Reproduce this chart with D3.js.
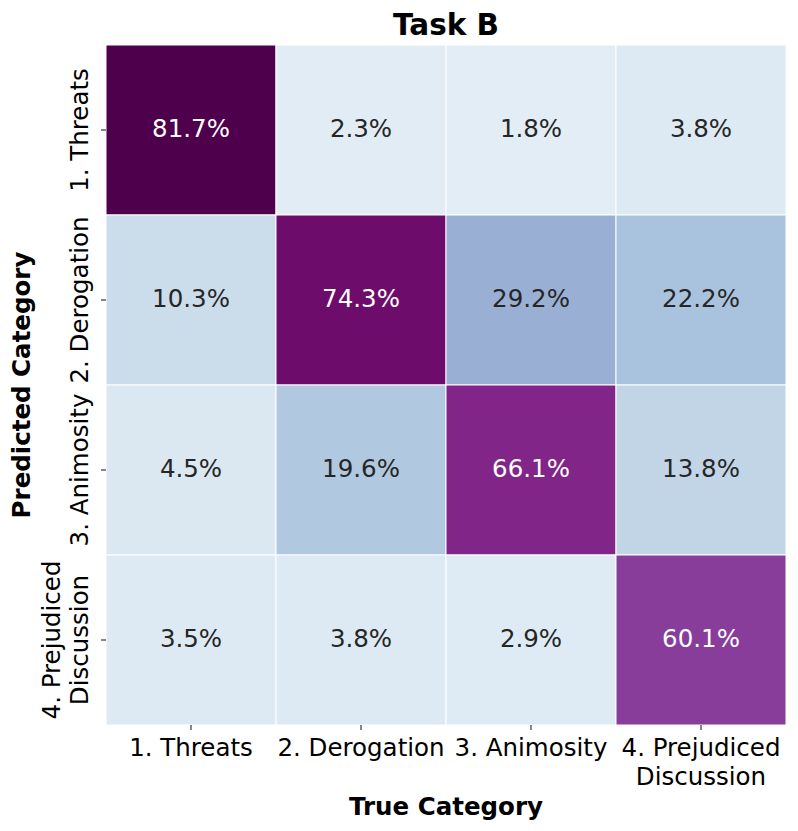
<!DOCTYPE html>
<html>
<head>
<meta charset="utf-8">
<script src="https://cdn.jsdelivr.net/npm/d3@7"></script>
<style>
  body { margin: 0; background: #fff; }
  text { font-family: "DejaVu Sans", sans-serif; }
</style>
</head>
<body>
<div id="chart"></div>
<script>
// confusion matrix, Task B (column-normalised %)
const trueCats = ["1. Threats", "2. Derogation", "3. Animosity", "4. Prejudiced\nDiscussion"];
const predCats = ["1. Threats", "2. Derogation", "3. Animosity", "4. Prejudiced\nDiscussion"];
// rows = predicted, columns = true
const values = [
  [81.7, 2.3, 1.8, 3.8],
  [10.3, 74.3, 29.2, 22.2],
  [4.5, 19.6, 66.1, 13.8],
  [3.5, 3.8, 2.9, 60.1]
];

const W = 798, H = 831;
const margin = { top: 45, right: 12, bottom: 106, left: 106 };
const width = 680, height = 680;

const svg = d3.select("#chart")
  .append("svg")
  .attr("width", W)
  .attr("height", H);

const g = svg.append("g")
  .attr("transform", `translate(${margin.left},${margin.top})`);

const x = d3.scaleBand().domain(trueCats).range([0, width]);
const y = d3.scaleBand().domain(predCats).range([0, height]);

const color = d3.scaleSequential(d3.interpolateBuPu).domain([-8, 82]);

const cells = [];
values.forEach((row, i) => {
  row.forEach((v, j) => cells.push({ pred: predCats[i], tru: trueCats[j], v }));
});

g.selectAll("rect.cell")
  .data(cells)
  .enter()
  .append("rect")
  .attr("class", "cell")
  .attr("x", d => x(d.tru))
  .attr("y", d => y(d.pred))
  .attr("width", x.bandwidth())
  .attr("height", y.bandwidth())
  .attr("fill", d => color(d.v))
  .attr("stroke", "#fff")
  .attr("stroke-width", 1);

g.selectAll("text.val")
  .data(cells)
  .enter()
  .append("text")
  .attr("class", "val")
  .attr("x", d => x(d.tru) + x.bandwidth() / 2)
  .attr("y", d => y(d.pred) + y.bandwidth() / 2)
  .attr("dy", "0.27em")
  .attr("text-anchor", "middle")
  .style("font-size", "24.5px")
  .attr("fill", d => d.v > 50 ? "#fff" : "#262626")
  .text(d => d.v.toFixed(1) + "%");

// x axis
const xAxis = g.append("g")
  .attr("transform", `translate(0,${height})`);
xAxis.selectAll("line")
  .data(trueCats)
  .enter()
  .append("line")
  .attr("x1", d => x(d) + x.bandwidth() / 2)
  .attr("x2", d => x(d) + x.bandwidth() / 2)
  .attr("y1", 0).attr("y2", 5)
  .attr("stroke", "#262626").attr("stroke-width", 1.1);
xAxis.selectAll("text")
  .data(trueCats)
  .enter()
  .append("text")
  .attr("text-anchor", "middle")
  .style("font-size", "24.5px")
  .attr("fill", "#000")
  .each(function(d) {
    const t = d3.select(this);
    d.split("\n").forEach((s, k) => {
      t.append("tspan")
        .attr("x", x(d) + x.bandwidth() / 2)
        .attr("y", 31 + k * 28.5)
        .text(s);
    });
  });

// y axis
const yAxis = g.append("g");
yAxis.selectAll("line")
  .data(predCats)
  .enter()
  .append("line")
  .attr("y1", d => y(d) + y.bandwidth() / 2)
  .attr("y2", d => y(d) + y.bandwidth() / 2)
  .attr("x1", -5).attr("x2", 0)
  .attr("stroke", "#262626").attr("stroke-width", 1.1);
yAxis.selectAll("text")
  .data(predCats)
  .enter()
  .append("text")
  .attr("text-anchor", "middle")
  .style("font-size", "24.5px")
  .attr("fill", "#000")
  .attr("transform", d => `translate(-18,${y(d) + y.bandwidth() / 2}) rotate(-90)`)
  .each(function(d) {
    const t = d3.select(this);
    const lines = d.split("\n");
    lines.forEach((s, k) => {
      t.append("tspan")
        .attr("x", 0)
        .attr("y", (k - (lines.length - 1)) * 28.5)
        .text(s);
    });
  });

// titles
svg.append("text")
  .attr("x", margin.left + width / 2)
  .attr("y", 35)
  .attr("text-anchor", "middle")
  .style("font-size", "29.5px")
  .style("font-weight", "bold")
  .text("Task B");

svg.append("text")
  .attr("x", margin.left + width / 2)
  .attr("y", 815)
  .attr("text-anchor", "middle")
  .style("font-size", "24.5px")
  .style("font-weight", "bold")
  .text("True Category");

svg.append("text")
  .attr("transform", `translate(30,${margin.top + height / 2}) rotate(-90)`)
  .attr("text-anchor", "middle")
  .style("font-size", "24.5px")
  .style("font-weight", "bold")
  .text("Predicted Category");
</script>
</body>
</html>
